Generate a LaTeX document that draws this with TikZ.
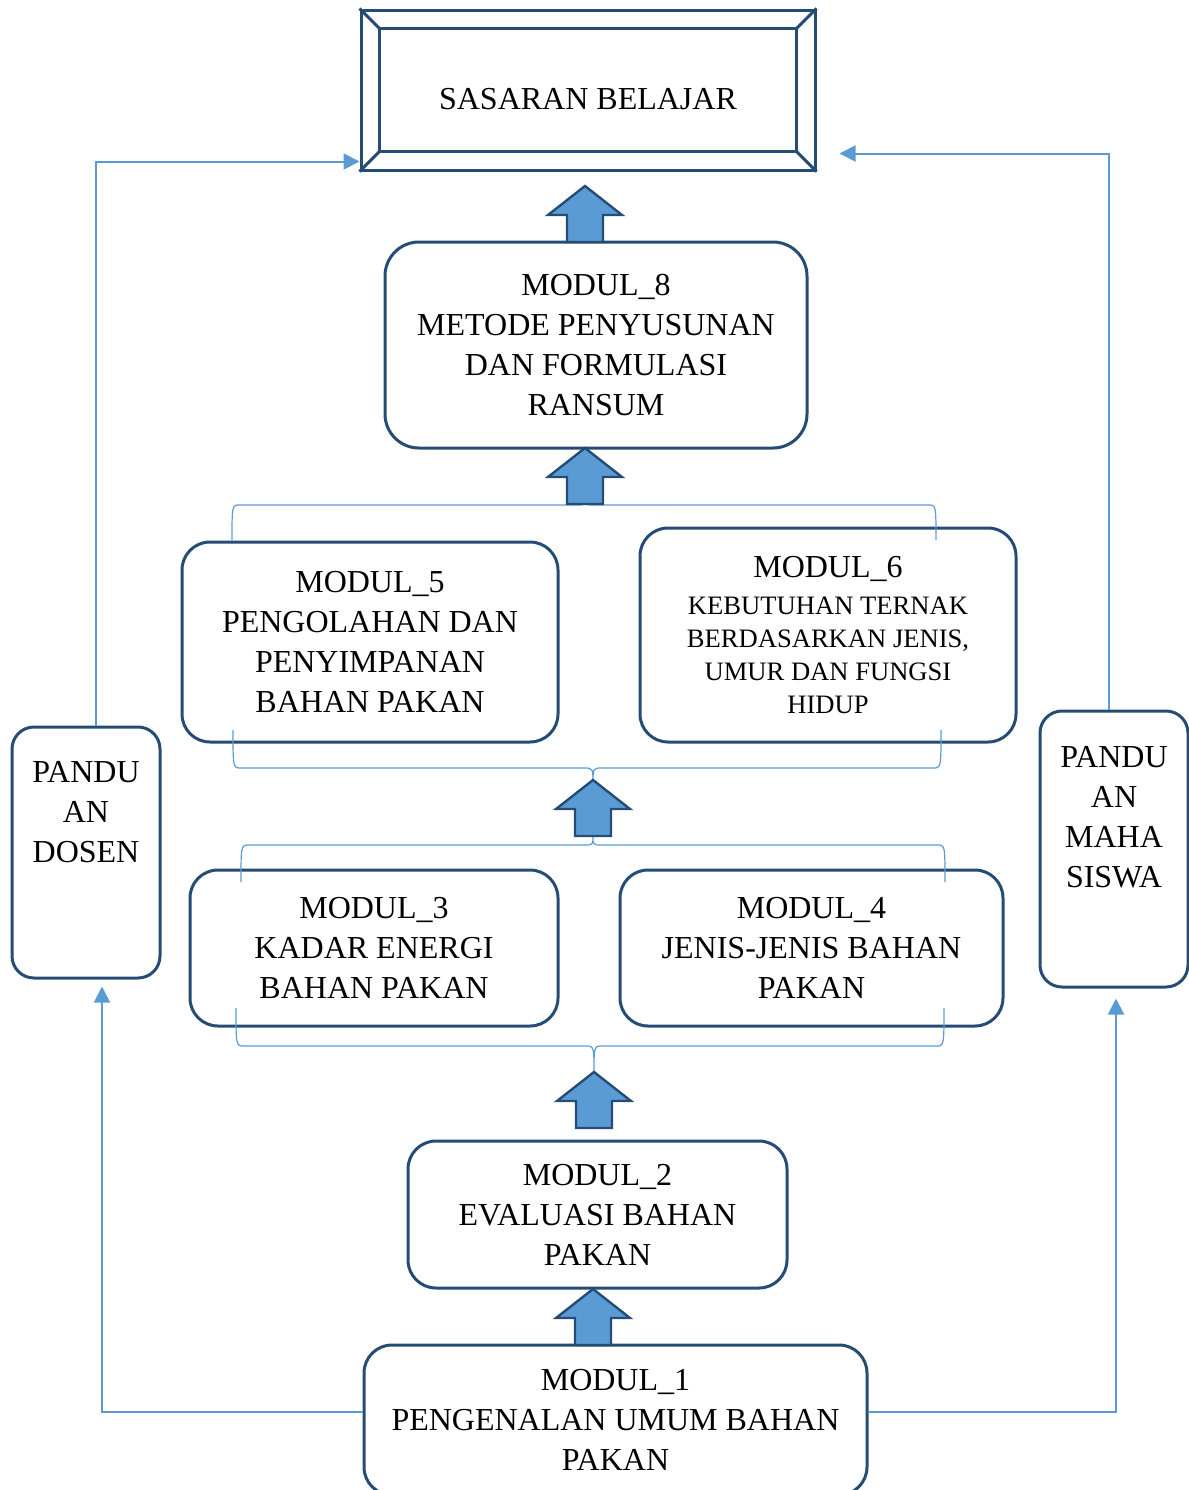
\documentclass[tikz,border=0pt]{standalone}
\usepackage{fontspec}
\setmainfont{Liberation Serif}
\usetikzlibrary{arrows.meta,calc}
\definecolor{boxline}{RGB}{37,76,117}
\definecolor{arrowfill}{RGB}{91,155,213}
\definecolor{linkblue}{RGB}{91,155,213}
\newcommand\kecil{\fontsize{13.3}{16.5}\selectfont}
\tikzset{pics/uparrow/.style={code={
  \draw[blockarrow] (-9pt,0pt) -- (-9pt,13.5pt) -- (-18.5pt,13.5pt) -- (0pt,28pt)
    -- (18.5pt,13.5pt) -- (9pt,13.5pt) -- (9pt,0pt) -- cycle;}}}

\begin{document}
\begin{tikzpicture}[x=0.5pt,y=-0.5pt,
   modul/.style={draw=boxline,line width=1.5pt,rounded corners=14pt,align=center,inner sep=2pt,
     font=\fontsize{16}{20}\selectfont},
   panduan/.style={modul,rounded corners=11pt,inner sep=0pt},
   link/.style={draw=linkblue,line width=1pt,-{Triangle[length=8pt,width=8pt]}},
   bracket/.style={draw=linkblue,line width=0.6pt},
   blockarrow/.style={draw=boxline,fill=arrowfill,line width=1.2pt,line join=miter}
]
\useasboundingbox (0,0) rectangle (1189,1490);

% goal at the top
\node[draw=boxline,line width=1.5pt,minimum width=227pt,minimum height=80pt,text height=19pt,text depth=0pt,
  font=\fontsize{16}{20}\selectfont] (sasaran) at (588,90) {SASARAN BELAJAR};
\draw[boxline,line width=1.5pt] ($(sasaran.north west)+(10pt,-10pt)$) rectangle ($(sasaran.south east)+(-10pt,10pt)$);
\foreach \c/\dx/\dy in {north west/10/-10,north east/-10/-10,south west/10/10,south east/-10/10}
  \draw[boxline,line width=1.5pt] (sasaran.\c) -- ++(\dx pt,\dy pt);

% modules
\node[modul,rounded corners=17pt,minimum width=211pt,minimum height=103pt] (m8) at (596,345)
  {MODUL\_8\\METODE PENYUSUNAN\\DAN FORMULASI\\RANSUM};
\node[modul,minimum width=188pt,minimum height=100pt] (m5) at (370,642)
  {MODUL\_5\\PENGOLAHAN DAN\\PENYIMPANAN\\BAHAN PAKAN};
\node[modul,minimum width=188pt,minimum height=107pt] (m6) at (828,635)
  {MODUL\_6\\[-1.5pt]\kecil KEBUTUHAN TERNAK\\[-3.5pt]\kecil BERDASARKAN JENIS,\\[-3.5pt]\kecil UMUR DAN FUNGSI\\[-3.5pt]\kecil HIDUP};
\node[modul,minimum width=184pt,minimum height=78pt] (m3) at (374,948)
  {MODUL\_3\\KADAR ENERGI\\BAHAN PAKAN};
\node[modul,minimum width=191.5pt,minimum height=78pt] (m4) at (811.5,948)
  {MODUL\_4\\JENIS-JENIS BAHAN\\PAKAN};
\node[modul,minimum width=189.5pt,minimum height=73.5pt] (m2) at (597.5,1214.5)
  {MODUL\_2\\EVALUASI BAHAN\\PAKAN};
\node[modul,minimum width=251.5pt,minimum height=75pt] (m1) at (615.5,1420)
  {MODUL\_1\\PENGENALAN UMUM BAHAN\\PAKAN};

% guides
\node[panduan] (dosen) at (86,852.5)
  {\parbox[c][125.5pt][t]{74pt}{\centering\vspace*{17pt}PANDU\\AN\\DOSEN}};
\node[panduan] (mhs) at (1114,849)
  {\parbox[c][138pt][t]{74pt}{\centering\vspace*{17.5pt}PANDU\\AN\\MAHA\\SISWA}};

% brackets
\foreach \xl/\xr/\yl/\ye/\xm/\yt/\nm in {232/936/505/540/585/499/b1,233/941/768/730/593/785/b2,
    241/945/845/882/593/836/b3,236/944/1046/1008/594/1073/b4}{
  \draw[bracket] (\xl,\ye) .. controls (\xl,\yl) .. ({\xl+8},\yl) -- ({\xm-9},\yl)
    .. controls (\xm,\yl) .. (\xm,\yt) .. controls (\xm,\yl) .. ({\xm+9},\yl) -- ({\xr-8},\yl)
    .. controls (\xr,\yl) .. (\xr,\ye);
  \coordinate (\nm) at (\xm,\yt);
}

% block arrows
\pic at (585,242) {uparrow};
\pic at (b1 |- 0,504) {uparrow};
\pic at (b3) {uparrow};
\pic at (594,1128) {uparrow};
\pic at (593,1345) {uparrow};

% links to the guides
\draw[link,shorten >=3.5pt] ([yshift=4pt]m1.west) -| ([xshift=8pt]dosen.south);
\draw[link] ([xshift=5pt]dosen.north) |- ([yshift=5pt]sasaran.south west);
\draw[link,shorten >=5pt] ([yshift=4pt]m1.east) -| ([xshift=1pt]mhs.south);
\draw[link,shorten >=11.5pt] ([xshift=-2.5pt]mhs.north) |- ([yshift=9pt]sasaran.south east);
\end{tikzpicture}
\end{document}
